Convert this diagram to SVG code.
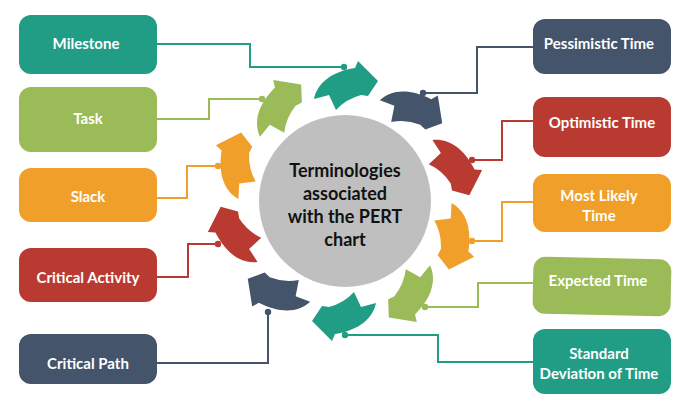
<svg xmlns="http://www.w3.org/2000/svg" xmlns:xlink="http://www.w3.org/1999/xlink" width="683" height="406" viewBox="0 0 683 406">
<style>
.teal{fill:#219d85}.navy{fill:#44546a}.red{fill:#b93a30}.orange{fill:#f0a02a}.green{fill:#9bbb59}
.lbl{font-family:Lato,"Open Sans","Liberation Sans",sans-serif;font-weight:bold;font-size:15px;fill:#ffffff;text-anchor:middle;dominant-baseline:central}
.ctr{font-family:Lato,"Open Sans","Liberation Sans",sans-serif;font-weight:bold;font-size:18px;fill:#111111;text-anchor:middle}
.ln{fill:none;stroke-width:2}
.sTeal{stroke:#219d85}.sNavy{stroke:#44546a}.sRed{stroke:#b93a30}.sOrange{stroke:#f0a02a}.sGreen{stroke:#9bbb59}
</style>
<defs>
<path id="arr" d="M314,99 C317,84 330,72 355,68 L358,61 L378,81 L368,96 L361,95 Q346,99 336,110 L329,95 Z"/>
</defs>
<rect width="683" height="406" fill="#ffffff"/>

<g id="hub">
<circle cx="345" cy="201" r="86" fill="#bfbfbf"/>
<text class="ctr" x="345" y="177">Terminologies</text>
<text class="ctr" x="345" y="200">associated</text>
<text class="ctr" x="345" y="223">with the PERT</text>
<text class="ctr" x="345" y="246">chart</text>
</g>

<g id="arrows">
<use xlink:href="#arr" class="teal"/>
<use xlink:href="#arr" class="navy" transform="rotate(36 345 201)"/>
<use xlink:href="#arr" class="red" transform="rotate(72 345 201)"/>
<use xlink:href="#arr" class="orange" transform="rotate(108 345 201)"/>
<use xlink:href="#arr" class="green" transform="rotate(144 345 201)"/>
<use xlink:href="#arr" class="teal" transform="rotate(180 345 201)"/>
<use xlink:href="#arr" class="navy" transform="rotate(216 345 201)"/>
<use xlink:href="#arr" class="red" transform="rotate(252 345 201)"/>
<use xlink:href="#arr" class="orange" transform="rotate(288 345 201)"/>
<use xlink:href="#arr" class="green" transform="rotate(324 345 201)"/>
</g>

<g id="connectors">
<polyline class="ln sTeal" points="157,44 250,44 250,67 344,67"/><circle class="teal" cx="344" cy="67" r="3.2"/>
<polyline class="ln sGreen" points="157,119 209,119 209,99 262,99"/><circle class="green" cx="262" cy="99" r="3.2"/>
<polyline class="ln sOrange" points="157,198 187,198 187,166 218,166"/><circle class="orange" cx="218" cy="166" r="3.2"/>
<polyline class="ln sRed" points="157,277 188,277 188,244 218,244"/><circle class="red" cx="218" cy="244" r="3.2"/>
<polyline class="ln sNavy" points="157,363 268,363 268,312"/><circle class="navy" cx="268" cy="312" r="3.2"/>
<polyline class="ln sNavy" points="533,47 477,47 477,93 423,93"/><circle class="navy" cx="423" cy="93" r="3.2"/>
<polyline class="ln sRed" points="533,121 502,121 502,160 472,160"/><circle class="red" cx="472" cy="160" r="3.2"/>
<polyline class="ln sOrange" points="533,202 502,202 502,241 472,241"/><circle class="orange" cx="472" cy="241" r="3.2"/>
<polyline class="ln sGreen" points="533,283 478,283 478,307 425,307"/><circle class="green" cx="425" cy="307" r="3.2"/>
<polyline class="ln sTeal" points="533,362 438,362 438,335 345,335"/><circle class="teal" cx="345" cy="335" r="3.2"/>
</g>

<g id="milestone"><rect class="teal" x="19" y="15" width="138" height="59" rx="12"/><text class="lbl" x="86" y="43">Milestone</text></g>
<g id="task"><rect class="green" x="19" y="87" width="138" height="65" rx="12"/><text class="lbl" x="88" y="118">Task</text></g>
<g id="slack"><rect class="orange" x="19" y="168" width="138" height="54" rx="12"/><text class="lbl" x="88" y="196">Slack</text></g>
<g id="critical-activity"><rect class="red" x="19" y="248" width="138" height="54" rx="12"/><text class="lbl" x="88" y="277">Critical Activity</text></g>
<g id="critical-path"><rect class="navy" x="19" y="334" width="138" height="50" rx="12"/><text class="lbl" x="88" y="363">Critical Path</text></g>

<g id="pessimistic"><rect class="navy" x="533" y="19" width="138" height="55" rx="12"/><text class="lbl" x="599" y="43">Pessimistic Time</text></g>
<g id="optimistic"><rect class="red" x="533" y="97" width="138" height="60" rx="12"/><text class="lbl" x="602" y="122">Optimistic Time</text></g>
<g id="most-likely"><rect class="orange" x="533" y="174" width="138" height="58" rx="12"/><text class="lbl" x="599" y="195">Most Likely</text><text class="lbl" x="599" y="215">Time</text></g>
<g id="expected"><rect class="green" x="533" y="258" width="138" height="57" rx="12" transform="rotate(1.2 602 286)"/><text class="lbl" x="598" y="280">Expected Time</text></g>
<g id="std-dev"><rect class="teal" x="533" y="329" width="138" height="65" rx="12"/><text class="lbl" x="599" y="353">Standard</text><text class="lbl" x="599" y="373">Deviation of Time</text></g>
</svg>
